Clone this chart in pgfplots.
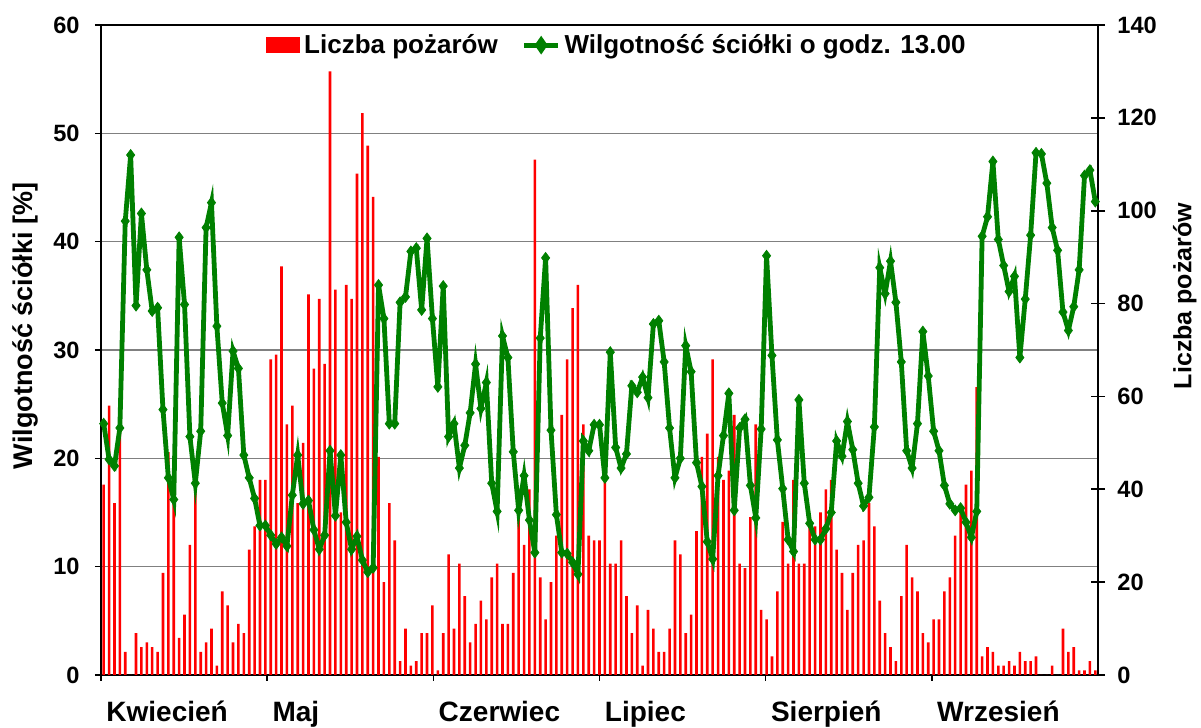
\documentclass[border=0pt]{standalone}
\usepackage{fontspec}
\setmainfont{Liberation Sans}
\usepackage{pgfplots}
\pgfplotsset{compat=1.18}
\usepackage{pgfplotstable}
\definecolor{lgreen}{RGB}{0,128,0}
\definecolor{gridgray}{RGB}{128,128,128}

\pgfplotstableread{
d n
1 41
2 58
3 37
4 53
5 5
6 0
7 9
8 6
9 7
10 6
11 5
12 22
13 48
14 37
15 8
16 13
17 28
18 41
19 5
20 7
21 10
22 2
23 18
24 15
25 7
26 11
27 9
28 27
29 32
30 42
31 42
32 68
33 69
34 88
35 54
36 58
37 37
38 50
39 82
40 66
41 81
42 67
43 130
44 83
45 35
46 84
47 81
48 108
49 121
50 114
51 103
52 47
53 20
54 37
55 29
56 3
57 10
58 2
59 3
60 9
61 9
62 15
63 1
64 9
65 26
66 10
67 24
68 17
69 7
70 11
71 16
72 12
73 21
74 24
75 11
76 11
77 22
78 36
79 28
80 40
81 111
82 21
83 12
84 20
85 30
86 56
87 68
88 79
89 84
90 54
91 30
92 29
93 29
94 44
95 24
96 24
97 29
98 17
99 9
100 15
101 2
102 14
103 10
104 5
105 5
106 10
107 29
108 26
109 9
110 13
111 31
112 47
113 52
114 68
115 47
116 42
117 44
118 56
119 24
120 23
121 34
122 54
123 14
124 12
125 4
126 18
127 33
128 24
129 42
130 24
131 24
132 33
133 32
134 35
135 40
136 42
137 27
138 22
139 14
140 22
141 28
142 29
143 37
144 32
145 16
146 9
147 6
148 3
149 17
150 28
151 21
152 18
153 9
154 7
155 12
156 12
157 18
158 21
159 30
160 36
161 41
162 44
163 62
164 4
165 6
166 5
167 2
168 2
169 3
170 2
171 5
172 3
173 3
174 4
175 0
176 0
177 2
178 0
179 10
180 5
181 6
182 1
183 1
184 3
185 1
}\fires

\pgfplotstableread{
d w
1 23.2
2 19.9
3 19.3
4 22.8
5 41.9
6 48.0
7 34.1
8 42.6
9 37.4
10 33.6
11 33.9
12 24.5
13 18.2
14 16.2
15 40.4
16 34.2
17 22.0
18 17.7
19 22.5
20 41.3
21 43.6
22 32.2
23 25.1
24 22.1
25 29.9
26 28.3
27 20.3
28 18.2
29 16.3
30 13.8
31 13.8
32 12.9
33 12.1
34 12.7
35 11.9
36 16.6
37 20.3
38 15.8
39 16.1
40 13.4
41 11.6
42 12.9
43 20.7
44 14.7
45 20.3
46 14.1
47 11.6
48 12.8
49 10.6
50 9.5
51 9.9
52 36.0
53 32.9
54 23.2
55 23.2
56 34.4
57 34.9
58 39.1
59 39.4
60 33.7
61 40.3
62 32.9
63 26.6
64 35.9
65 22.0
66 23.2
67 19.1
68 21.2
69 24.2
70 28.7
71 24.6
72 27.0
73 17.7
74 15.1
75 31.3
76 29.3
77 20.6
78 15.2
79 18.4
80 14.3
81 11.3
82 31.1
83 38.5
84 22.6
85 14.8
86 11.3
87 11.2
88 10.4
89 9.3
90 21.6
91 20.7
92 23.1
93 23.1
94 18.2
95 29.8
96 21.0
97 19.1
98 20.4
99 26.7
100 26.1
101 27.5
102 25.6
103 32.4
104 32.7
105 28.9
106 22.8
107 18.2
108 20.0
109 30.4
110 28.0
111 19.6
112 17.4
113 12.3
114 10.7
115 18.4
116 22.1
117 26.0
118 15.2
119 22.8
120 23.6
121 17.5
122 14.5
123 22.7
124 38.7
125 29.5
126 21.7
127 17.2
128 12.5
129 11.4
130 25.4
131 17.7
132 14.0
133 12.5
134 12.5
135 13.5
136 15.0
137 21.6
138 20.2
139 23.4
140 20.8
141 17.7
142 15.6
143 16.4
144 22.9
145 37.6
146 35.2
147 38.2
148 34.4
149 28.9
150 20.7
151 19.1
152 23.2
153 31.7
154 27.6
155 22.5
156 20.7
157 17.5
158 15.8
159 15.2
160 15.4
161 14.1
162 12.7
163 15.1
164 40.5
165 42.3
166 47.4
167 40.2
168 37.8
169 35.4
170 36.8
171 29.3
172 34.7
173 40.6
174 48.2
175 48.1
176 45.4
177 41.3
178 39.2
179 33.5
180 31.8
181 34.0
182 37.4
183 46.1
184 46.6
185 43.7
}\moist

\newcommand\tickfont{\bfseries\fontsize{11.8}{13}\selectfont}
\newcommand\monthfont{\bfseries\fontsize{14}{16}\selectfont}
\newcommand\legfont{\bfseries\fontsize{13}{15}\selectfont}

\pgfplotsset{
  base/.style={
    width=498.5pt, height=325pt, scale only axis,
    at={(0pt,0pt)}, anchor=south west,
    xmin=0.5, xmax=185.5,
    /pgf/number format/assume math mode=true,
    tick label style={font=\tickfont},
  },
}

\begin{document}
\begin{tikzpicture}
\path[use as bounding box] (-50.5pt,-26.5pt) rectangle (550pt,337.5pt);

% Axis 0: grid, left axis, month axis, frame
\begin{axis}[base,
  ymin=0, ymax=60, ytick={0,10,...,60},
  ymajorgrids, grid style={gridgray, line width=0.7pt},
  axis line style={black, line width=1pt},
  tick pos=left, tick align=outside,
  major tick length=3pt,
  tick style={black, line width=0.8pt},
  xtick={0.5,31.333,62.167,93,123.833,154.667},
  xticklabels={Kwiecień,Maj,Czerwiec,Lipiec,Sierpień,Wrzesień},
  xticklabel style={font=\monthfont, anchor=north west, inner sep=0pt, xshift=2.5pt, yshift=-10pt},
  yticklabel style={anchor=east, inner sep=0pt, xshift=-7.5pt},
  ylabel={Wilgotność ściółki [\%]},
  every axis y label/.style={at={(axis description cs:-0.0762,0.537)}, rotate=90, anchor=center,
    font=\bfseries\fontsize{13.5}{15}\selectfont},
]
\end{axis}

% Axis 1: fires (bars), right axis
\begin{axis}[base,
  ymin=0, ymax=140, ytick={0,20,...,140},
  axis y line*=right, axis x line=none,
  axis line style={black, line width=1pt},
  tick align=center, major tick length=7pt,
  tick style={black, line width=0.8pt},
  yticklabel style={anchor=west, inner sep=0pt, xshift=6pt},
  ylabel={Liczba pożarów},
  every axis y label/.style={at={(axis description cs:1.087,0.583)}, rotate=90, anchor=center,
    font=\bfseries\fontsize{12.5}{14}\selectfont},
]
\addplot[ybar, bar width=1.3pt, fill=red, draw=none] table[x=d,y=n]{\fires};
\end{axis}

% Axis 2: moisture line + legend
\begin{axis}[base,
  ymin=0, ymax=60, hide axis,
  legend columns=2,
  legend style={at={(axis description cs:0.5185,0.969)}, anchor=center,
    draw=none, fill=none, font=\legfont,
    /tikz/every even column/.append style={column sep=10pt},
    cells={anchor=west}},
]
\addlegendimage{legend image code/.code={\fill[red] (0pt,-3.75pt) rectangle (16.5pt,3.75pt);}}
\addlegendentry{Liczba pożarów}
\addplot[color=lgreen, line width=2.4pt, mark=diamond*, mark size=2.7pt,
  mark options={solid, fill=lgreen, line width=0.4pt},
  legend image code/.code={\draw[lgreen, line width=2.4pt] (0pt,0pt) -- (17pt,0pt);
    \fill[lgreen] (8.5pt,0pt) +(0,2.6pt) -- +(1.8pt,0) -- +(0,-2.6pt) -- +(-1.8pt,0) -- cycle;}]
  table[x=d,y=w]{\moist};
\addlegendentry{Wilgotność ściółki o godz. 13.00}
\end{axis}
\end{tikzpicture}
\end{document}
